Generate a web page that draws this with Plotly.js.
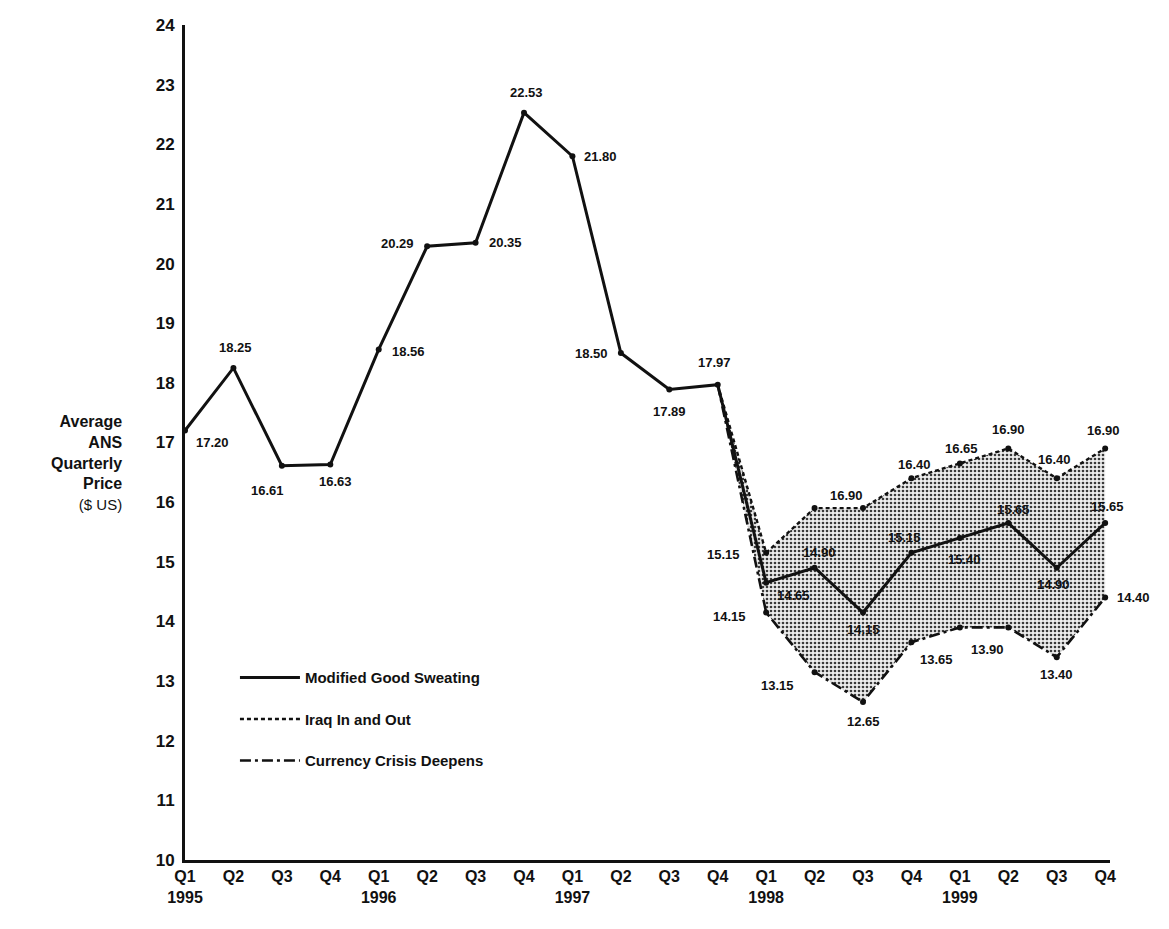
<!DOCTYPE html>
<html><head><meta charset="utf-8">
<script src="https://cdn.plot.ly/plotly-3.0.1.min.js"></script>
<style>html,body{margin:0;padding:0;background:#fff}#chart{width:1169px;height:929px}</style>
</head><body><div id="chart"></div>
<script>
// ---- data ----
const quarterTicks = ["Q1<br>1995","Q2","Q3","Q4","Q1<br>1996","Q2","Q3","Q4","Q1<br>1997","Q2","Q3","Q4",
                      "Q1<br>1998","Q2","Q3","Q4","Q1<br>1999","Q2","Q3","Q4"];
const historyPrices = [17.20,18.25,16.61,16.63,18.56,20.29,20.35,22.53,21.80,18.50,17.89,17.97];
const goodSweating  = [14.65,14.90,14.15,15.15,15.40,15.65,14.90,15.65];
const iraqInOut     = [15.15,15.90,15.90,16.40,16.65,16.90,16.40,16.90];
const currencyCrisis= [14.15,13.15,12.65,13.65,13.90,13.90,13.40,14.40];
const historyLabels = ["17.20","18.25","16.61","16.63","18.56","20.29","20.35","22.53","21.80","18.50","17.89","17.97"];
const goodLabels    = ["14.65","14.90","14.15","15.15","15.40","15.65","14.90","15.65"];
const iraqLabels    = ["15.15","16.90","","16.40","16.65","16.90","16.40","16.90"];
const currencyLabels= ["14.15","13.15","12.65","13.65","13.90","","13.40","14.40"];
const seriesNames   = ["Modified Good Sweating","Iraq In and Out","Currency Crisis Deepens"];

// ---- label offsets (px, dy positive = down) ----
const historyOffsets = [[27,12],[2,-20],[-14,25],[5,17],[30,2],[-30,-3],[30,0],[2,-20],[28,0],[-29,0],[0,22],[-3,-22]];
const goodOffsets    = [[27,13],[5,-15],[0,17],[-7,-15],[5,22],[5,-14],[-3,17],[2,-17]];
const iraqOffsets    = [[-43,2],[32,-13],[0,0],[3,-14],[2,-15],[0,-19],[-2,-19],[-2,-18]];
const currencyOffsets= [[-37,4],[-37,13],[0,20],[25,17],[28,22],[0,0],[0,17],[28,0]];

const nHist = historyPrices.length;
const xHist = historyPrices.map((_, i) => i);
const xF = goodSweating.map((_, i) => nHist + i);
const xFc = [nHist - 1].concat(xF);
const lastHist = historyPrices[nHist - 1];

const solidX = xHist.concat(xF);
const solidY = historyPrices.concat(goodSweating);
const iraqY = [lastHist].concat(iraqInOut);
const currY = [lastHist].concat(currencyCrisis);

const FONT = "Liberation Sans, Arial, sans-serif";

const traces = [
  // shaded range between the scenarios (no legend)
  { x: xFc, y: currY, mode: 'lines', showlegend: false, hoverinfo: 'skip',
    line: { color: 'rgba(0,0,0,0)', width: 0 } },
  { x: xFc, y: iraqY, mode: 'lines', showlegend: false, hoverinfo: 'skip',
    line: { color: 'rgba(0,0,0,0)', width: 0 },
    fill: 'tonexty', fillcolor: 'rgba(235,235,235,1)',
    fillpattern: { shape: '.', size: 4, solidity: 0.35, fgcolor: '#3a3a3a', bgcolor: '#eeeeee' } },
  // lines
  { x: xFc, y: currY, mode: 'lines', name: seriesNames[2], legendrank: 3, legendgroup: 'c',
    line: { color: '#111', width: 2.6, dash: '11px,4px,3px,4px' } },
  { x: xFc, y: iraqY, mode: 'lines', name: seriesNames[1], legendrank: 2, legendgroup: 'b',
    line: { color: '#111', width: 2.4, dash: '4px,3px' } },
  { x: solidX, y: solidY, mode: 'lines', name: seriesNames[0], legendrank: 1, legendgroup: 'a',
    line: { color: '#111', width: 3 } },
  // point markers
  { x: xF, y: currencyCrisis, mode: 'markers', showlegend: false, marker: { color: '#111', size: 6 } },
  { x: xF, y: iraqInOut, mode: 'markers', showlegend: false, marker: { color: '#111', size: 6 } },
  { x: solidX, y: solidY, mode: 'markers', showlegend: false, marker: { color: '#111', size: 6 } }
];

const annotations = [];
function addLabels(xs, ys, labels, offsets) {
  xs.forEach((x, i) => {
    if (!labels[i]) return;
    annotations.push({ x: x, y: ys[i], xref: 'x', yref: 'y', text: labels[i], showarrow: false,
      xshift: offsets[i][0], yshift: -offsets[i][1],
      font: { family: FONT, size: 13, color: '#111', weight: 'bold' } });
  });
}
addLabels(xHist, historyPrices, historyLabels, historyOffsets);
addLabels(xF, goodSweating, goodLabels, goodOffsets);
addLabels(xF, iraqInOut, iraqLabels, iraqOffsets);
addLabels(xF, currencyCrisis, currencyLabels, currencyOffsets);

annotations.push({
  xref: 'paper', yref: 'paper', x: -0.066, y: 0.475, xanchor: 'right', yanchor: 'middle', align: 'right',
  showarrow: false,
  text: 'Average<br>ANS<br>Quarterly<br>Price<br><span style="font-weight:normal;font-size:15px">($ US)</span>',
  font: { family: FONT, size: 16, color: '#111', weight: 'bold' }
});

const layout = {
  width: 1169, height: 929,
  margin: { l: 185, r: 59, t: 25, b: 69 },
  paper_bgcolor: '#fff', plot_bgcolor: '#fff',
  showlegend: true,
  legend: { x: 0.054, y: 0.238, xanchor: 'left', yanchor: 'top', bgcolor: 'rgba(0,0,0,0)',
            tracegroupgap: 19, itemwidth: 60,
            font: { family: FONT, size: 15, color: '#111', weight: 'bold' } },
  xaxis: { range: [0, 19.1], tickvals: quarterTicks.map((_, i) => i), ticktext: quarterTicks,
           showgrid: false, zeroline: false, showline: true, linecolor: '#111', linewidth: 3,
           ticks: '', tickfont: { family: FONT, size: 16, color: '#111', weight: 'bold' } },
  yaxis: { range: [10, 24], dtick: 1, showgrid: false, zeroline: false, showline: true,
           linecolor: '#111', linewidth: 3, ticks: 'outside', ticklen: 4, tickcolor: '#fff',
           tickfont: { family: FONT, size: 17, color: '#111', weight: 'bold' } },
  annotations: annotations
};

Plotly.newPlot('chart', traces, layout, { displayModeBar: false, staticPlot: true });
</script>
</body></html>
